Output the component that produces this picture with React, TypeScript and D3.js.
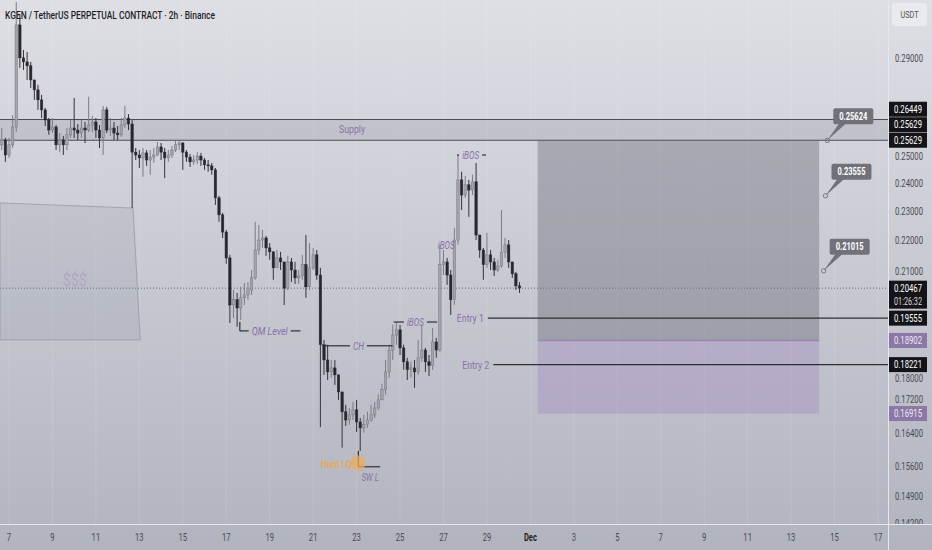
import React from 'react';
import * as d3 from 'd3';

const nov = (d: number, h = 0, m = 0) => new Date(Date.UTC(2025, 10, d, h, m));
const dec = (d: number, h = 0, m = 0) => new Date(Date.UTC(2025, 11, d, h, m));

// 4h candles, open = previous close
const FIRST_CANDLE = nov(6, 16);
const STEP_MS = 4 * 3600 * 1000;
const FIRST_OPEN = 0.2545;

const closes = [
  0.2564, 0.2506, 0.2545, 0.2615, 0.3054, 0.2905, 0.2887, 0.2870, 0.2809, 0.2767, 0.2725, 0.2684,
  0.2643, 0.2603, 0.2615, 0.2545, 0.2564, 0.2545, 0.2584, 0.2611, 0.2603, 0.2591, 0.2611, 0.2603,
  0.2623, 0.2635, 0.2603, 0.2572, 0.2684, 0.2603, 0.2611, 0.2591, 0.2584, 0.2623, 0.2651, 0.2627,
  0.2517, 0.2506, 0.2495, 0.2514, 0.2487, 0.2498, 0.2506, 0.2537, 0.2517, 0.2495, 0.2506, 0.2525,
  0.2545, 0.2552, 0.2517, 0.2498, 0.2480, 0.2487, 0.2502, 0.2487, 0.2469, 0.2465, 0.2450, 0.2348,
  0.2288, 0.2229, 0.2143, 0.1995, 0.2011, 0.1986, 0.2017, 0.2026, 0.2041, 0.2079, 0.2169, 0.2202,
  0.2209, 0.2176, 0.2163, 0.2111, 0.2143, 0.2130, 0.2047, 0.2130, 0.2104, 0.2079, 0.2085, 0.2121,
  0.2051, 0.2111, 0.2153, 0.2088, 0.1878, 0.1835, 0.1802, 0.1813, 0.1794, 0.1748, 0.1696, 0.1675,
  0.1688, 0.1701, 0.1670, 0.1655, 0.1663, 0.1675, 0.1688, 0.1706, 0.1727, 0.1754, 0.1802, 0.1863,
  0.1906, 0.1921, 0.1869, 0.1830, 0.1808, 0.1813, 0.1802, 0.1841, 0.1863, 0.1830, 0.1819, 0.1886,
  0.1863, 0.2121, 0.2130, 0.2088, 0.2011, 0.2202, 0.2413, 0.2358, 0.2395, 0.2376, 0.2406, 0.2219,
  0.2169, 0.2121, 0.2153, 0.2130, 0.2104, 0.2117, 0.2160, 0.2186, 0.2130, 0.2092, 0.2054, 0.20467,
];

const highs = [
  0.2611, 0.2572, 0.2572, 0.2663, 0.3162, 0.3100, 0.2940, 0.2931, 0.2887, 0.2809, 0.2788, 0.2746,
  0.2692, 0.2651, 0.2651, 0.2623, 0.2591, 0.2580, 0.2611, 0.2643, 0.2733, 0.2627, 0.2643, 0.2635,
  0.2738, 0.2659, 0.2651, 0.2623, 0.2700, 0.2696, 0.2651, 0.2635, 0.2619, 0.2651, 0.2700, 0.2667,
  0.2643, 0.2533, 0.2525, 0.2533, 0.2525, 0.2525, 0.2533, 0.2556, 0.2552, 0.2533, 0.2525, 0.2541,
  0.2560, 0.2564, 0.2556, 0.2525, 0.2510, 0.2506, 0.2517, 0.2514, 0.2495, 0.2487, 0.2476, 0.2457,
  0.2355, 0.2295, 0.2236, 0.2153, 0.2041, 0.2032, 0.2051, 0.2063, 0.2066, 0.2104, 0.2264, 0.2253,
  0.2236, 0.2216, 0.2192, 0.2163, 0.2169, 0.2163, 0.2130, 0.2150, 0.2143, 0.2130, 0.2104, 0.2153,
  0.2219, 0.2192, 0.2176, 0.2169, 0.2111, 0.1892, 0.1878, 0.1835, 0.1835, 0.1794, 0.1748, 0.1714,
  0.1706, 0.1722, 0.1727, 0.1680, 0.1688, 0.1696, 0.1714, 0.1722, 0.1741, 0.1770, 0.1835, 0.1878,
  0.1936, 0.1944, 0.1936, 0.1878, 0.1841, 0.1830, 0.1835, 0.1892, 0.1936, 0.1869, 0.1849, 0.1927,
  0.1898, 0.2186, 0.2169, 0.2143, 0.2104, 0.2243, 0.2506, 0.2443, 0.2428, 0.2413, 0.2432, 0.2476,
  0.2209, 0.2176, 0.2226, 0.2169, 0.2143, 0.2137, 0.2305, 0.2209, 0.2202, 0.2130, 0.2098, 0.2066,
];

const lows = [
  0.2525, 0.2480, 0.2495, 0.2533, 0.2595, 0.2861, 0.2852, 0.2809, 0.2775, 0.2725, 0.2684, 0.2651,
  0.2619, 0.2584, 0.2591, 0.2525, 0.2517, 0.2506, 0.2525, 0.2572, 0.2572, 0.2564, 0.2572, 0.2552,
  0.2595, 0.2595, 0.2572, 0.2533, 0.2506, 0.2591, 0.2580, 0.2564, 0.2564, 0.2576, 0.2611, 0.2603,
  0.2312, 0.2487, 0.2457, 0.2424, 0.2465, 0.2432, 0.2476, 0.2502, 0.2487, 0.2420, 0.2480, 0.2495,
  0.2517, 0.2525, 0.2450, 0.2480, 0.2461, 0.2469, 0.2472, 0.2465, 0.2450, 0.2443, 0.2432, 0.2323,
  0.2264, 0.2209, 0.2124, 0.1941, 0.1956, 0.1930, 0.1950, 0.1995, 0.2011, 0.2026, 0.2073, 0.2153,
  0.2176, 0.2150, 0.2137, 0.2073, 0.2121, 0.2104, 0.1995, 0.2041, 0.2066, 0.2060, 0.2060, 0.2073,
  0.2017, 0.2041, 0.2104, 0.2073, 0.1657, 0.1794, 0.1780, 0.1786, 0.1767, 0.1727, 0.1606, 0.1660,
  0.1663, 0.1675, 0.1645, 0.1598, 0.1643, 0.1655, 0.1670, 0.1680, 0.1701, 0.1727, 0.1741, 0.1786,
  0.1835, 0.1878, 0.1849, 0.1808, 0.1780, 0.1786, 0.1759, 0.1794, 0.1830, 0.1802, 0.1791, 0.1808,
  0.1841, 0.1858, 0.2088, 0.2057, 0.1965, 0.1995, 0.2186, 0.2305, 0.2348, 0.2281, 0.2358, 0.2202,
  0.2143, 0.2073, 0.2111, 0.2104, 0.2085, 0.2098, 0.2111, 0.2143, 0.2111, 0.2079, 0.2041, 0.2032,
];

const DATE_TICKS = [
  nov(7), nov(9), nov(11), nov(13), nov(15), nov(17), nov(19), nov(21), nov(23), nov(25), nov(27), nov(29),
  dec(1), dec(3), dec(5), dec(7), dec(9), dec(11), dec(13), dec(15), dec(17),
];
const PRICE_TICKS = [0.29, 0.25, 0.24, 0.23, 0.22, 0.21, 0.18, 0.172, 0.164, 0.156, 0.149, 0.142];

const SUPPLY = [0.25629, 0.26449];
const TARGET_ZONE = [0.18902, 0.25629];
const STOP_ZONE = [0.16915, 0.18902];
const ZONE_TIME = [dec(1, 8), dec(14, 7)];
const LAST_PRICE = 0.20467;
const COUNTDOWN = '01:26:32';

const ENTRIES = [
  { label: 'Entry 1', price: 0.19555, from: nov(29, 1) },
  { label: 'Entry 2', price: 0.18221, from: nov(29, 7) },
];

const TARGET_NOTES = [
  { label: '0.25624', price: 0.25624, t: dec(14, 16) },
  { label: '0.23555', price: 0.23555, t: dec(14, 14) },
  { label: '0.21015', price: 0.21015, t: dec(14, 12) },
];

const STRUCTURE = [
  { label: 'QM Level', price: 0.1918, from: nov(17, 15), to: nov(20, 10), mid: nov(19), w: 36 },
  { label: 'CH', price: 0.1875, from: nov(21, 10), to: nov(24, 16), mid: nov(23, 2), w: 11 },
  { label: 'iBOS', price: 0.1944, from: nov(24, 17), to: nov(26, 17), mid: nov(25, 17), w: 17 },
  { label: 'iBOS', price: 0.2506, from: nov(27, 15), to: nov(28, 23), mid: nov(28, 6), w: 17 },
];

const AXIS_TAGS = [
  { price: 0.26449, bg: '#141418' },
  { price: 0.25629, bg: '#141418' },
  { price: 0.25629, bg: '#141418' },
  { price: 0.19555, bg: '#141418' },
  { price: 0.18902, bg: '#8b78a6' },
  { price: 0.18221, bg: '#141418' },
  { price: 0.16915, bg: '#8b78a6' },
];

// liquidity box ($$$) corners as [time, price]
const LIQ_BOX: [Date, number][] = [
  [nov(6, 14), 0.2330], [nov(12, 17), 0.2312], [nov(13, 1), 0.1892], [nov(6, 14), 0.1892],
];

const PURPLE = '#8a6fa8';
const FONT = 'Roboto, "Noto Sans", sans-serif';

const App: React.FC = () => {
  const W = 932, H = 550, R = 888, B = 524;
  const x = d3.scaleUtc().domain([nov(6, 14, 3), dec(17, 11, 4)]).range([0, R]);
  const y = d3.scaleLog().domain([0.143, 0.3172]).range([B, 0]);

  const candles = closes.map((c, i) => {
    const o = i ? closes[i - 1] : FIRST_OPEN;
    return {
      t: new Date(+FIRST_CANDLE + i * STEP_MS), o, c,
      h: Math.max(highs[i], o, c), l: Math.min(lows[i], o, c),
    };
  });

  const tags = AXIS_TAGS.map(t => ({ ...t, cy: y(t.price) })).sort((a, b) => b.cy - a.cy);
  for (let i = 1; i < tags.length; i++) {
    if (tags[i - 1].cy - tags[i].cy < 15.5) tags[i].cy = tags[i - 1].cy - 15.5;
  }

  // tick labels peek out beside the price tags instead of sitting under them
  const boxes = [
    ...tags.map(t => [t.cy - 7.5, t.cy + 7.5]),
    [y(LAST_PRICE) - 7.5, y(LAST_PRICE) + 20.5],
  ];
  const ticks = PRICE_TICKS.map(p => {
    let ty = Math.min(y(p), B - 1);
    for (const [a, b] of boxes) {
      if (ty + 6.5 > a && ty - 6.5 < b) ty = ty < (a + b) / 2 ? a - 6.5 : b + 6.5;
    }
    return { p, ty };
  });

  const liqPath = d3.line<[Date, number]>().x(d => x(d[0])).y(d => y(d[1]))(LIQ_BOX) + 'Z';
  const zx0 = x(ZONE_TIME[0]), zx1 = x(ZONE_TIME[1]);
  const swX = x(nov(23, 2));

  return (
    <div style={{ position: 'absolute', left: 0, top: 0 }}>
      <svg width={W} height={H} style={{ display: 'block', fontFamily: FONT }}>
        <defs>
          <linearGradient id="bg" x1="0" y1="0" x2="0" y2="1">
            <stop offset="0" stopColor="#dedfe5" />
            <stop offset="1" stopColor="#b1b4be" />
          </linearGradient>
          <clipPath id="plot"><rect x={0} y={0} width={R} height={B} /></clipPath>
          <clipPath id="axis"><rect x={R} y={0} width={W - R} height={B} /></clipPath>
        </defs>
        <rect width={W} height={H} fill="url(#bg)" />

        {/* faint vertical grid */}
        {DATE_TICKS.map((d, i) => (
          <line key={i} x1={x(d)} x2={x(d)} y1={0} y2={B} stroke="#ffffff" strokeOpacity={0.12} />
        ))}

        <g clipPath="url(#plot)">
          {/* supply band */}
          <rect x={0} width={R} y={y(SUPPLY[1])} height={y(SUPPLY[0]) - y(SUPPLY[1])} fill="rgba(90,94,105,0.15)" />
          <line x1={0} x2={R} y1={y(SUPPLY[1])} y2={y(SUPPLY[1])} stroke="#4a4c55" />
          <line x1={0} x2={R} y1={y(SUPPLY[0])} y2={y(SUPPLY[0])} stroke="#4a4c55" />
          <text x={x(nov(22, 19))} y={Math.sqrt(y(SUPPLY[0]) * y(SUPPLY[1])) + 4} textAnchor="middle" fontSize={10}
            fill={PURPLE} textLength={26} lengthAdjust="spacingAndGlyphs">Supply</text>

          {/* liquidity box */}
          <path d={liqPath} fill="rgba(90,94,105,0.1)" stroke="rgba(120,122,132,0.45)" />
          <text x={x(nov(10, 1))} y={y(0.2073) + 6} textAnchor="middle" fontSize={18} fill="#b7a5cb"
            textLength={24} lengthAdjust="spacingAndGlyphs">$$$</text>

          {/* position zones */}
          <rect x={zx0} width={zx1 - zx0} y={y(TARGET_ZONE[1])} height={y(TARGET_ZONE[0]) - y(TARGET_ZONE[1])} fill="rgba(95,98,108,0.37)" />
          <rect x={zx0} width={zx1 - zx0} y={y(STOP_ZONE[1])} height={y(STOP_ZONE[0]) - y(STOP_ZONE[1])} fill="rgba(155,118,190,0.3)" />
          <line x1={zx0} x2={zx1} y1={y(STOP_ZONE[1])} y2={y(STOP_ZONE[1])} stroke="#9a84b4" strokeWidth={1.5} />

          {/* last price */}
          <line x1={0} x2={R} y1={y(LAST_PRICE)} y2={y(LAST_PRICE)} stroke="#6a6c74" strokeDasharray="1 2" />

          {/* candles */}
          {candles.map((d, i) => {
            const cx = x(d.t);
            const up = d.c >= d.o;
            const top = y(Math.max(d.o, d.c));
            const bh = Math.max(1, Math.abs(y(d.o) - y(d.c)));
            return (
              <g key={i}>
                <line x1={cx} x2={cx} y1={y(d.h)} y2={y(d.l)} stroke={up ? '#7a7b83' : '#34323a'} strokeWidth={1} />
                <rect x={cx - 1.2} y={top} width={2.4} height={bh} fill={up ? '#a3a4ac' : '#29272e'}
                  stroke={up ? '#74757d' : '#29272e'} strokeWidth={0.5} />
              </g>
            );
          })}

          {/* structure labels */}
          {STRUCTURE.map((s, i) => {
            const ly = y(s.price), mx = x(s.mid);
            return (
              <g key={i}>
                <line x1={x(s.from)} x2={mx - s.w / 2 - 3} y1={ly} y2={ly} stroke="#2e2f35" strokeWidth={1.2} />
                <line x1={mx + s.w / 2 + 3} x2={x(s.to)} y1={ly} y2={ly} stroke="#2e2f35" strokeWidth={1.2} />
                <text x={mx} y={ly + 4} textAnchor="middle" fontSize={11} fontStyle="italic" fill={PURPLE}
                  textLength={s.w} lengthAdjust="spacingAndGlyphs">{s.label}</text>
              </g>
            );
          })}
          <line x1={x(nov(17, 15))} x2={x(nov(17, 15))} y1={y(0.1944)} y2={y(0.1918)} stroke="#2e2f35" strokeWidth={1.2} />
          <text x={x(nov(27, 3))} y={y(0.2186) + 4} textAnchor="middle" fontSize={11} fontStyle="italic" fill={PURPLE}
            textLength={17} lengthAdjust="spacingAndGlyphs">iBOS</text>

          {/* entries */}
          {ENTRIES.map((e, i) => (
            <g key={i}>
              <line x1={x(e.from)} x2={R} y1={y(e.price)} y2={y(e.price)} stroke="#2e2f35" strokeWidth={1.2} />
              <text x={x(e.from) - 4} y={y(e.price) + 4} textAnchor="end" fontSize={11} fill={PURPLE}
                textLength={27} lengthAdjust="spacingAndGlyphs">{e.label}</text>
            </g>
          ))}

          {/* sweep low */}
          <line x1={swX} x2={swX} y1={y(0.1598)} y2={y(0.1560)} stroke="#2e2f35" strokeWidth={1.2} />
          <line x1={swX} x2={x(nov(24, 2))} y1={y(0.1560)} y2={y(0.1560)} stroke="#2e2f35" strokeWidth={1.2} />
          <circle cx={swX} cy={y(0.1569)} r={7.5} fill="rgba(236,172,92,0.75)" />
          <text x={swX - 6.5} y={y(0.1569) + 5} textAnchor="end" fontSize={10.5} fontWeight={700} fill="#e3a95c"
            textLength={31} lengthAdjust="spacingAndGlyphs">Hunt LQ</text>
          <text x={x(nov(23, 15))} y={y(0.1535) + 4} textAnchor="middle" fontSize={11} fontStyle="italic" fill={PURPLE}
            textLength={17} lengthAdjust="spacingAndGlyphs">SW L</text>

          {/* target notes */}
          {TARGET_NOTES.map((n, i) => {
            const px = x(n.t), py = y(n.price);
            return (
              <g key={i}>
                <circle cx={px} cy={py} r={2.2} fill="none" stroke="#7a7b83" />
                <path d={`M${px},${py}L${px + 12},${py - 17}L${px + 19},${py - 17}Z`} fill="#707179" />
                <rect x={px + 6} y={py - 32} width={40} height={16} rx={2} fill="#707179" />
                <text x={px + 26} y={py - 20.5} textAnchor="middle" fontSize={10} fontWeight={700} fill="#ffffff"
                  textLength={28} lengthAdjust="spacingAndGlyphs">{n.label}</text>
              </g>
            );
          })}
        </g>

        {/* title */}
        <text x={5} y={18.5} fontSize={10.5} fontWeight={500} fill="#1f1f24" textLength={210}
          lengthAdjust="spacingAndGlyphs">KGEN / TetherUS PERPETUAL CONTRACT · 2h · Binance</text>

        {/* axes frame */}
        <line x1={0} x2={W} y1={B + 0.5} y2={B + 0.5} stroke="#e6e7ec" />
        <line x1={R + 0.5} x2={R + 0.5} y1={0} y2={H} stroke="#e6e7ec" />

        {/* date axis */}
        {DATE_TICKS.map((d, i) => {
          const lbl = d.getUTCDate() === 1 ? 'Dec' : String(d.getUTCDate());
          return (
            <text key={i} x={x(d)} y={541} textAnchor="middle" fontSize={10.5} fill={lbl === 'Dec' ? '#1f1f24' : '#4a4a52'}
              fontWeight={lbl === 'Dec' ? 700 : 400} textLength={lbl.length * 4.3} lengthAdjust="spacingAndGlyphs">{lbl}</text>
          );
        })}

        {/* price axis */}
        <rect x={892} y={3} width={35} height={23} rx={3} fill="#e9eaee" />
        <text x={909.5} y={18} textAnchor="middle" fontSize={9.5} fill="#555" textLength={18} lengthAdjust="spacingAndGlyphs">USDT</text>
        <g clipPath="url(#axis)">
          {ticks.map((t, i) => (
            <text key={i} x={895} y={t.ty + 3.5} fontSize={10.5} fill="#4a4a52" textLength={28}
              lengthAdjust="spacingAndGlyphs">{d3.format('.5f')(t.p)}</text>
          ))}
        </g>
        {tags.map((t, i) => (
          <g key={i}>
            <rect x={889} y={t.cy - 7.5} width={38} height={15} fill={t.bg} />
            <text x={908} y={t.cy + 3.7} textAnchor="middle" fontSize={10.5} fill={t.bg === '#141418' ? '#ffffff' : '#efe8f6'}
              textLength={28} lengthAdjust="spacingAndGlyphs">{d3.format('.5f')(t.price)}</text>
          </g>
        ))}
        <rect x={889} y={y(LAST_PRICE) - 7.5} width={38} height={28} fill="#141418" />
        <text x={908} y={y(LAST_PRICE) + 3.7} textAnchor="middle" fontSize={10.5} fill="#ffffff" textLength={28}
          lengthAdjust="spacingAndGlyphs">{d3.format('.5f')(LAST_PRICE)}</text>
        <text x={908} y={y(LAST_PRICE) + 16.5} textAnchor="middle" fontSize={10} fill="#d8d8dc" textLength={28}
          lengthAdjust="spacingAndGlyphs">{COUNTDOWN}</text>
      </svg>
    </div>
  );
};

export default App;
